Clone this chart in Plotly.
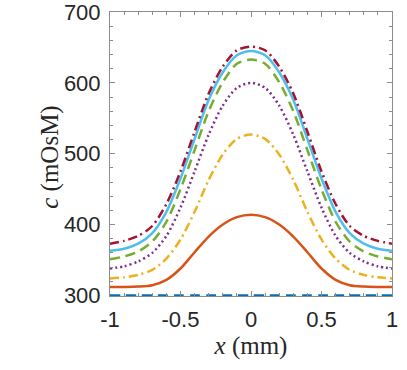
import plotly.graph_objects as go

# x positions (mm)
x_mm = [-1.0, -0.9, -0.8, -0.7, -0.6, -0.5, -0.4, -0.3, -0.2, -0.1, 0.0,
        0.1, 0.2, 0.3, 0.4, 0.5, 0.6, 0.7, 0.8, 0.9, 1.0]

# half profiles from x=0 to x=1 (curves are symmetric), mOsM
half_blue   = [300, 300, 300, 300, 300, 300, 300, 300, 300, 300, 300]
half_orange = [414, 410.5, 400, 383, 361, 338, 322, 314.5, 312.5, 312, 312]
half_yellow = [527, 521, 499, 463, 418, 379, 352, 336, 329, 325.5, 324]
half_purple = [600, 593, 568, 527, 475, 424, 384, 360, 348, 341, 338]
half_green  = [633, 627, 601, 560, 505, 450, 404, 376, 362, 355, 351]
half_cyan   = [645, 639, 615, 576, 521, 465, 418, 388, 373, 366, 363]
half_red    = [651, 646, 623, 585, 531, 475, 429, 398, 384, 377, 373]

y_ticks = [300, 400, 500, 600, 700]
x_ticks = [-1, -0.5, 0, 0.5, 1]
x_tick_text = ["-1", "-0.5", "0", "0.5", "1"]

def full(h):
    return h[::-1] + h[1:]

series = [
    (half_blue,   "#0072BD", "10px,6px"),
    (half_orange, "#D95319", "solid"),
    (half_yellow, "#EDB120", "9px,4px,2px,4px"),
    (half_purple, "#7E2F8E", "2px,3px"),
    (half_green,  "#77AC30", "10px,6px"),
    (half_cyan,   "#4DBEEE", "solid"),
    (half_red,    "#A2142F", "9px,4px,2px,4px"),
]

fig = go.Figure()
for h, col, dash in series:
    fig.add_trace(go.Scatter(
        x=x_mm, y=full(h), mode="lines",
        line=dict(color=col, width=2.5, dash=dash, shape="spline", smoothing=0.8),
        showlegend=False, hoverinfo="skip"))

axis_common = dict(
    showline=True, linecolor="#8c8c8c", linewidth=1, mirror="ticks",
    ticks="inside", ticklen=5, tickcolor="#8c8c8c", tickwidth=1,
    showgrid=False, zeroline=False, automargin=False, ticklabeloverflow="allow",
    tickfont=dict(family="Liberation Sans, Arial, sans-serif", size=22, color="#262626"),
)

fig.update_xaxes(
    range=[-1, 1], tickvals=x_ticks, ticktext=x_tick_text,
    minor=dict(dtick=0.1, tick0=-1, ticks="inside", ticklen=3, tickcolor="#8c8c8c"),
    title=dict(text="<i>x</i> (mm)", font=dict(family="Liberation Serif, serif", size=25, color="#262626"),
               standoff=2),
    ticklabelstandoff=4,
    **axis_common)
fig.update_yaxes(
    range=[299.2, 700], tickvals=y_ticks,
    minor=dict(dtick=20, tick0=300, ticks="inside", ticklen=3, tickcolor="#8c8c8c"),
    ticklabelstandoff=4,
    **axis_common)

fig.add_annotation(
    text="<i>c</i> (mOsM)", xref="paper", yref="paper", x=-0.213, y=0.49,
    xanchor="center", yanchor="middle", textangle=-90, showarrow=False,
    font=dict(family="Liberation Serif, serif", size=25, color="#262626"))

fig.update_layout(
    width=407, height=370,
    margin=dict(l=110, r=15, t=12, b=74),
    paper_bgcolor="white", plot_bgcolor="white",
)

fig.write_html("out.html", config={"displayModeBar": False},
               post_script="document.body.style.margin='0';")
